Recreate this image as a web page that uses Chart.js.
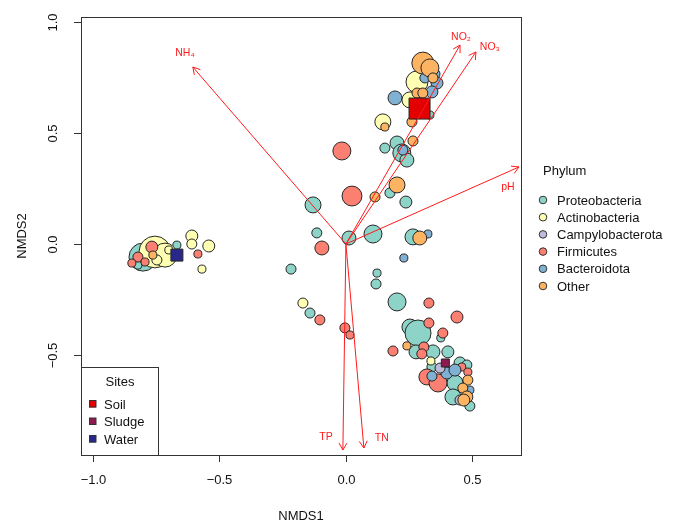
<!DOCTYPE html>
<html><head><meta charset="utf-8">
<script src="https://cdn.jsdelivr.net/npm/chart.js@4/dist/chart.umd.min.js"></script>
<style>html,body{margin:0;padding:0;background:#fff}canvas{display:block}</style>
</head><body>
<canvas id="c" width="675" height="523"></canvas>
<script>
// ---- Data (NMDS scores, relative abundance) ----
const phylumNames = ["Proteobacteria","Actinobacteria","Campylobacterota","Firmicutes","Bacteroidota","Other"];
const phylumColors = ["#8DD3C7","#FFFFB3","#BEBADA","#FB8072","#80B1D3","#FDB462"];

const protX = [-0.802,-0.822,-0.802,-0.731,-0.668,0.202,0.221,0.241,0.154,0.174,0.237,-0.130,-0.115,0.012,0.107,0.265,-0.217,0.123,0.119,0.202,-0.142,0.253,0.285,0.375,0.277,0.344,0.403,0.340,0.451,0.478,0.431,0.423,0.490,0.332];
const protY = [-0.059,-0.095,-0.041,-0.014,-0.005,0.455,0.410,0.378,0.432,0.230,0.189,0.176,0.050,0.027,0.045,0.032,-0.113,-0.131,-0.180,-0.261,-0.311,-0.374,-0.401,-0.423,-0.486,-0.486,-0.486,-0.554,-0.536,-0.545,-0.626,-0.689,-0.730,0.581];
const protA = [21.8,1.8,1,1.8,1.8,5.4,9,5.4,2.8,2.8,4,7.1,2.8,5.4,9,7.1,2.8,1.8,2.8,9,2.8,7.1,18.8,1.8,5.4,5.4,4,2.8,4,2.8,7.1,7.1,2.8,1.8];

const actX = [-0.755,-0.715,-0.747,-0.700,-0.609,-0.609,-0.542,-0.569,0.281,0.253,0.146,-0.170,0.336];
const actY = [-0.036,-0.050,-0.072,-0.027,0.036,0.000,-0.009,-0.113,0.730,0.649,0.550,-0.266,-0.527];
const actA = [28,16,2.8,1.8,4,2.8,4,1.8,13.4,7.1,7.1,2.8,1.8];

const campX = [0.372,0.451];
const campY = [-0.559,-0.703];
const campA = [2.8,2.8];

const firX = [-0.767,-0.822,-0.846,-0.794,-0.585,-0.016,0.024,-0.095,-0.103,-0.004,0.016,0.186,0.328,0.439,0.328,0.383,0.308,0.300,0.320,0.364,0.458,0.482];
const firY = [-0.014,-0.059,-0.086,-0.081,-0.045,0.419,0.216,-0.018,-0.342,-0.378,-0.410,-0.482,-0.266,-0.329,-0.356,-0.401,-0.464,-0.495,-0.599,-0.626,-0.554,-0.577];
const firA = [4,2.8,1.8,1.8,1.8,9,11,5.4,2.8,2.8,1.8,2.8,2.8,4,2.8,2.8,2.8,2.8,7.1,9,1.8,1.8];

const bacX = [0.194,0.320,0.312,0.360,0.340,0.352,0.225,0.229,0.324,0.340,0.399,0.431,0.490];
const bacY = [0.658,0.784,0.748,0.725,0.685,0.766,0.423,-0.063,0.045,-0.595,-0.581,-0.568,-0.658];
const bacA = [5.4,4,2.8,4,4,2.8,2.8,1.8,1.8,2.8,4,4,1.8];

const othX = [0.304,0.332,0.344,0.281,0.304,0.261,0.154,0.265,0.202,0.115,0.292,-0.763,0.241,0.482,0.462,0.478,0.466];
const othY = [0.815,0.793,0.748,0.680,0.680,0.550,0.527,0.464,0.266,0.212,0.027,-0.050,-0.459,-0.613,-0.649,-0.689,-0.703];
const othA = [13.4,9,2.8,2.8,2.8,2.8,1.8,2.8,7.1,2.8,5.4,1.8,1.8,2.8,2.8,4,4];

const siteNames = ["Soil","Sludge","Water"];
const siteColors = ["#E30000","#8E1A52","#27288A"];
const siteX = [0.291,0.393,-0.668];
const siteY = [0.610,-0.536,-0.050];
const siteSize = [10.5,4,6];

const envNames = ["NH\u2084","NO\u2082","NO\u2083","pH","TP","TN"];
const envX = [-0.605,0.451,0.514,0.684,-0.012,0.071];
const envY = [0.797,0.896,0.865,0.347,-0.928,-0.919];
const envLabX = [-0.636,0.455,0.569,0.640,-0.079,0.142];
const envLabY = [0.860,0.932,0.887,0.257,-0.869,-0.874];

const xTicks = [-1.0,-0.5,0.0,0.5];
const yTicks = [-0.5,0.0,0.5,1.0];
const xTitle = "NMDS1", yTitle = "NMDS2";

// ---- build datasets ----
function pts(xs, ys, as){ return xs.map((x,i)=>({x:x, y:ys[i], a:as[i]})); }
const series = [
  {name:"Proteobacteria", d:pts(protX,protY,protA), order:6, c:phylumColors[0]},
  {name:"Actinobacteria", d:pts(actX,actY,actA), order:5, c:phylumColors[1]},
  {name:"Firmicutes", d:pts(firX,firY,firA), order:4, c:phylumColors[3]},
  {name:"Bacteroidota", d:pts(bacX,bacY,bacA), order:3, c:phylumColors[4]},
  {name:"Campylobacterota", d:pts(campX,campY,campA), order:2, c:phylumColors[2]},
  {name:"Other", d:pts(othX,othY,othA), order:1, c:phylumColors[5]}
];
const datasets = series.map(s=>({
  label:s.name, data:s.d, order:s.order,
  backgroundColor:s.c, borderColor:"#262626", borderWidth:1,
  pointRadius:ctx=> ctx.raw ? 3*Math.sqrt(ctx.raw.a) : 3,
  pointHoverRadius:ctx=> ctx.raw ? 3*Math.sqrt(ctx.raw.a) : 3
}));
datasets.push({
  label:"Sites", order:0,
  data: siteX.map((x,i)=>({x:x,y:siteY[i],a:siteSize[i]})),
  pointStyle:"rect",
  backgroundColor: siteColors, borderColor:"#262626", borderWidth:1,
  pointRadius: ctx=> ctx.raw ? ctx.raw.a*1.414 : 3,
  pointHoverRadius: ctx=> ctx.raw ? ctx.raw.a*1.414 : 3
});

const FONT = '"Liberation Sans", Arial, sans-serif';

const overlay = {
  id:"overlay",
  afterDatasetsDraw(chart){
    const {ctx, scales:{x,y}} = chart;
    ctx.save();
    // env arrows
    ctx.strokeStyle = "#FF1A1A"; ctx.fillStyle = "#FF1A1A"; ctx.lineWidth = 1;
    const ox = x.getPixelForValue(0), oy = y.getPixelForValue(0);
    envX.forEach((vx,i)=>{
      const tx = x.getPixelForValue(vx), ty = y.getPixelForValue(envY[i]);
      ctx.beginPath(); ctx.moveTo(ox,oy); ctx.lineTo(tx,ty); ctx.stroke();
      const ang = Math.atan2(ty-oy, tx-ox), L = 8, w = Math.PI/6;
      ctx.beginPath();
      ctx.moveTo(tx - L*Math.cos(ang-w), ty - L*Math.sin(ang-w));
      ctx.lineTo(tx,ty);
      ctx.lineTo(tx - L*Math.cos(ang+w), ty - L*Math.sin(ang+w));
      ctx.stroke();
      ctx.font = "10.5px " + FONT; ctx.textAlign="center"; ctx.textBaseline="middle";
      ctx.fillText(envNames[i], x.getPixelForValue(envLabX[i]), y.getPixelForValue(envLabY[i]));
    });
    ctx.restore();
  },
  afterDraw(chart){
    const {ctx, chartArea:a, scales:{x,y}} = chart;
    ctx.save();
    ctx.strokeStyle = "#333"; ctx.lineWidth = 1; ctx.fillStyle="#111";
    // sites legend box
    const lx = a.left, ly = 367, lw = 77, lh = a.bottom - ly;
    ctx.fillStyle="#fff"; ctx.fillRect(lx, ly, lw, lh);
    ctx.strokeRect(lx+0.5, ly+0.5, lw, lh);
    ctx.fillStyle="#111"; ctx.font = "13px " + FONT; ctx.textBaseline="middle";
    ctx.textAlign="center"; ctx.fillText("Sites", lx+39, 382);
    ctx.textAlign="left";
    siteNames.forEach((n,i)=>{
      const yy = 404 + i*17.5;
      ctx.fillStyle = siteColors[i]; ctx.fillRect(lx+8, yy-3.5, 7, 7);
      ctx.strokeRect(lx+8.5, yy-3.5, 6.5, 6.5);
      ctx.fillStyle="#111"; ctx.fillText(n, lx+23, yy+1);
    });
    // box
    ctx.strokeRect(a.left+0.5, a.top+0.5, a.right-a.left, a.bottom-a.top);
    // x ticks
    ctx.textAlign="center"; ctx.textBaseline="middle"; ctx.font="13px "+FONT;
    xTicks.forEach(v=>{
      const px = Math.round(x.getPixelForValue(v))+0.5;
      ctx.beginPath(); ctx.moveTo(px, a.bottom); ctx.lineTo(px, a.bottom+7); ctx.stroke();
      ctx.fillText((v<0?"\u2212":"")+Math.abs(v).toFixed(1), px, a.bottom+25);
    });
    ctx.fillText(xTitle, (a.left+a.right)/2, 516);
    // y ticks
    yTicks.forEach(v=>{
      const py = Math.round(y.getPixelForValue(v))+0.5;
      ctx.beginPath(); ctx.moveTo(a.left, py); ctx.lineTo(a.left-7, py); ctx.stroke();
      ctx.save(); ctx.translate(53, py); ctx.rotate(-Math.PI/2);
      ctx.fillText((v<0?"\u2212":"")+Math.abs(v).toFixed(1), 0, 0);
      ctx.restore();
    });
    ctx.save(); ctx.translate(22, (a.top+a.bottom)/2); ctx.rotate(-Math.PI/2);
    ctx.fillText(yTitle, 0, 0); ctx.restore();
    // phylum legend
    ctx.textAlign="left"; ctx.font="13px "+FONT;
    ctx.fillText("Phylum", 543, 171);
    phylumNames.forEach((n,i)=>{
      const yy = 200 + i*17.2;
      ctx.beginPath(); ctx.arc(543, yy, 3.8, 0, Math.PI*2);
      ctx.fillStyle = phylumColors[i]; ctx.fill(); ctx.strokeStyle="#333"; ctx.stroke();
      ctx.fillStyle="#111"; ctx.fillText(n, 557, yy+1);
    });
    ctx.restore();
  }
};

new Chart(document.getElementById("c"), {
  type:"scatter",
  data:{datasets:datasets},
  options:{
    responsive:false, animation:false, devicePixelRatio:1, events:[],
    layout:{padding:{left:81, top:17, right:154, bottom:68}},
    scales:{
      x:{type:"linear", min:-1.047, max:0.692, display:false},
      y:{type:"linear", min:-0.9505, max:1.0225, display:false}
    },
    plugins:{legend:{display:false}, tooltip:{enabled:false}}
  },
  plugins:[overlay]
});
</script>
</body></html>
